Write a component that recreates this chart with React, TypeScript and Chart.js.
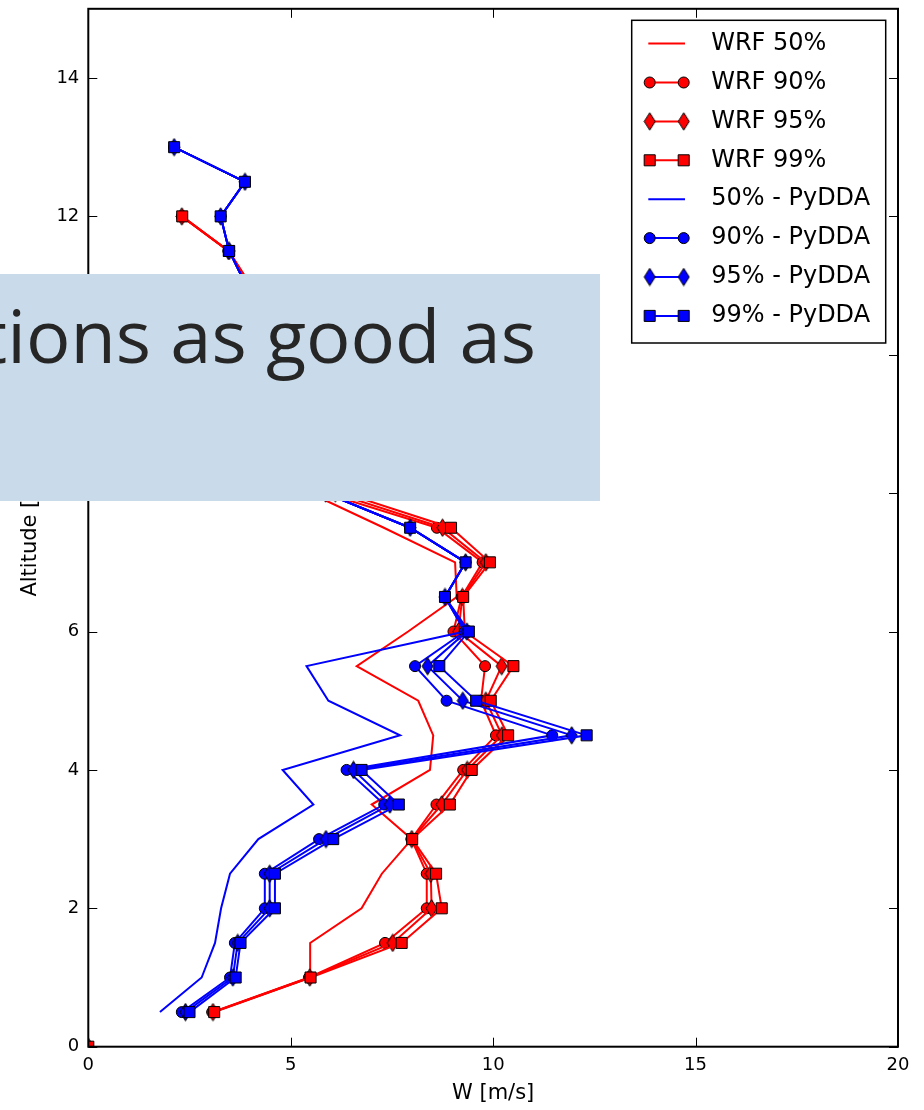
import React, { useEffect, useRef } from "react";
import { Chart, registerables } from "chart.js";

Chart.register(...registerables);

// ---------- data ----------
const X_TICKS = [0, 5, 10, 15, 20];
const Y_TICKS = [0, 2, 4, 6, 8, 10, 12, 14];

// WRF altitudes (km), includes the surface point
const WRF_ALT = [0, 0.5, 1, 1.5, 2, 2.5, 3, 3.5, 4, 4.5, 5, 5.5, 6, 6.5, 7, 7.5, 8, 8.5, 9, 9.5, 10, 10.5, 11, 11.5, 12];
// PyDDA altitudes (km)
const PYDDA_ALT = [0.5, 1, 1.5, 2, 2.5, 3, 3.5, 4, 4.5, 5, 5.5, 6, 6.5, 7, 7.5, 8, 8.5, 9, 9.5, 10, 10.5, 11, 11.5, 12, 12.5, 13];

const WRF_50 = [0, 3.09, 5.48, 5.48, 6.75, 7.25, 7.99, 7.0, 8.44, 8.52, 8.15, 6.63, 7.9, 9.1, 9.06, 7.3, 5.48, 5.2, 5.0, 4.7, 4.5, 4.2, 4.0, 3.46, 2.31];
const WRF_90 = [0, 3.06, 5.45, 7.33, 8.36, 8.36, 7.98, 8.6, 9.26, 10.07, 9.7, 9.8, 9.02, 9.22, 9.74, 8.61, 5.86, 5.5, 5.2, 4.8, 4.6, 4.3, 4.0, 3.46, 2.31];
const WRF_95 = [0, 3.08, 5.47, 7.52, 8.48, 8.46, 7.99, 8.73, 9.36, 10.22, 9.82, 10.21, 9.14, 9.24, 9.82, 8.75, 6.1, 5.6, 5.25, 4.85, 4.6, 4.3, 4.0, 3.46, 2.31];
const WRF_99 = [0, 3.11, 5.49, 7.74, 8.73, 8.59, 8.0, 8.93, 9.47, 10.37, 9.94, 10.5, 9.3, 9.26, 9.92, 8.96, 6.33, 5.7, 5.3, 4.9, 4.65, 4.35, 4.02, 3.47, 2.32];

const PYDDA_50 = [1.77, 2.8, 3.13, 3.28, 3.5, 4.2, 5.56, 4.8, 7.7, 5.93, 5.39, 9.3, 8.81, 9.32, 7.95, 5.86, 5.3, 5.0, 4.6, 4.4, 4.2, 3.9, 3.48, 3.27, 3.87, 2.12];
const PYDDA_90 = [2.31, 3.5, 3.62, 4.36, 4.36, 5.7, 7.31, 6.38, 11.46, 8.85, 8.07, 9.3, 8.81, 9.32, 7.95, 5.86, 5.3, 5.0, 4.6, 4.4, 4.2, 3.9, 3.48, 3.27, 3.87, 2.12];
const PYDDA_95 = [2.4, 3.57, 3.69, 4.48, 4.48, 5.87, 7.45, 6.55, 11.94, 9.25, 8.38, 9.35, 8.81, 9.32, 7.95, 5.86, 5.3, 5.0, 4.6, 4.4, 4.2, 3.9, 3.48, 3.27, 3.87, 2.12];
const PYDDA_99 = [2.5, 3.64, 3.76, 4.61, 4.61, 6.05, 7.67, 6.75, 12.31, 9.58, 8.67, 9.4, 8.81, 9.32, 7.95, 5.86, 5.3, 5.0, 4.6, 4.4, 4.2, 3.9, 3.48, 3.27, 3.87, 2.12];

const LABELS = ["WRF 50%", "WRF 90%", "WRF 95%", "WRF 99%", "50% - PyDDA", "90% - PyDDA", "95% - PyDDA", "99% - PyDDA"];

const X_TITLE = "W [m/s]";
const Y_TITLE = "Altitude [km]";
const BANNER_TEXT = "tions as good as";

// ---------- styles ----------
const RED = "#ff0000";
const BLUE = "#0000ff";
const FONT = "'DejaVu Sans', sans-serif";

type Marker = "none" | "circle" | "diamond" | "square";

const SERIES: { label: string; alt: number[]; w: number[]; color: string; marker: Marker; surface: boolean }[] = [
  { label: LABELS[0], alt: WRF_ALT, w: WRF_50, color: RED, marker: "none", surface: true },
  { label: LABELS[1], alt: WRF_ALT, w: WRF_90, color: RED, marker: "circle", surface: true },
  { label: LABELS[2], alt: WRF_ALT, w: WRF_95, color: RED, marker: "diamond", surface: true },
  { label: LABELS[3], alt: WRF_ALT, w: WRF_99, color: RED, marker: "square", surface: true },
  { label: LABELS[4], alt: PYDDA_ALT, w: PYDDA_50, color: BLUE, marker: "none", surface: false },
  { label: LABELS[5], alt: PYDDA_ALT, w: PYDDA_90, color: BLUE, marker: "circle", surface: false },
  { label: LABELS[6], alt: PYDDA_ALT, w: PYDDA_95, color: BLUE, marker: "diamond", surface: false },
  { label: LABELS[7], alt: PYDDA_ALT, w: PYDDA_99, color: BLUE, marker: "square", surface: false },
];

const CIRCLE_R = 5.5;
const SQUARE_R = 7.8;

function makeDiamond(color: string): HTMLCanvasElement {
  const c = document.createElement("canvas");
  c.width = 13;
  c.height = 19;
  const g = c.getContext("2d")!;
  g.beginPath();
  g.moveTo(6.5, 0.8);
  g.lineTo(12, 9.5);
  g.lineTo(6.5, 18.2);
  g.lineTo(1, 9.5);
  g.closePath();
  g.fillStyle = color;
  g.fill();
  g.strokeStyle = "#000";
  g.lineWidth = 1;
  g.stroke();
  return c;
}

function drawMarker(ctx: CanvasRenderingContext2D, marker: Marker, x: number, y: number, color: string, diamonds: Record<string, HTMLCanvasElement>) {
  if (marker === "none") return;
  if (marker === "diamond") {
    const img = diamonds[color];
    ctx.drawImage(img, x - img.width / 2, y - img.height / 2);
    return;
  }
  ctx.beginPath();
  if (marker === "circle") {
    ctx.arc(x, y, CIRCLE_R, 0, Math.PI * 2);
  } else {
    const s = SQUARE_R * Math.SQRT1_2;
    ctx.rect(x - s, y - s, 2 * s, 2 * s);
  }
  ctx.fillStyle = color;
  ctx.fill();
  ctx.strokeStyle = "#000";
  ctx.lineWidth = 1;
  ctx.stroke();
}

export default function App() {
  const ref = useRef<HTMLCanvasElement | null>(null);

  useEffect(() => {
    const canvas = ref.current;
    if (!canvas) return;
    const diamonds: Record<string, HTMLCanvasElement> = { [RED]: makeDiamond(RED), [BLUE]: makeDiamond(BLUE) };

    const n = SERIES.length;
    const datasets = SERIES.map((s, i) => {
      const style: any =
        s.marker === "circle" ? "circle" : s.marker === "square" ? "rect" : s.marker === "diamond" ? diamonds[s.color] : "circle";
      const radius = s.marker === "none" ? 0 : s.marker === "circle" ? CIRCLE_R : s.marker === "square" ? SQUARE_R : 6;
      const ds: any = {
        label: s.label,
        data: s.alt.map((a, k) => ({ x: s.w[k], y: a })),
        showLine: true,
        borderColor: s.color,
        backgroundColor: s.color,
        borderWidth: 2,
        pointStyle: style,
        pointRadius: radius,
        pointHoverRadius: radius,
        pointBackgroundColor: s.color,
        pointBorderColor: "#000",
        pointBorderWidth: 1,
        tension: 0,
        clip: 0,
        order: n - 1 - i,
      };
      if (s.surface) {
        ds.segment = {
          borderColor: (c: any) => (c.p0DataIndex === 0 ? "rgba(0,0,0,0)" : undefined),
        };
      }
      return ds;
    });

    const framePlugin = {
      id: "mplFrame",
      afterDraw(chart: any) {
        const { ctx, chartArea: ca } = chart;
        const xs = chart.scales.x;
        const ys = chart.scales.y;
        ctx.save();
        // inward ticks on all four sides
        ctx.strokeStyle = "#000";
        ctx.lineWidth = 1;
        ctx.beginPath();
        X_TICKS.forEach((v) => {
          const px = Math.round(xs.getPixelForValue(v)) + 0.5;
          ctx.moveTo(px, ca.bottom);
          ctx.lineTo(px, ca.bottom - 9);
          ctx.moveTo(px, ca.top);
          ctx.lineTo(px, ca.top + 9);
        });
        Y_TICKS.forEach((v) => {
          const py = Math.round(ys.getPixelForValue(v)) + 0.5;
          ctx.moveTo(ca.left, py);
          ctx.lineTo(ca.left + 9, py);
          ctx.moveTo(ca.right, py);
          ctx.lineTo(ca.right - 9, py);
        });
        ctx.stroke();
        // frame
        ctx.lineWidth = 2;
        ctx.strokeRect(ca.left, ca.top, ca.right - ca.left, ca.bottom - ca.top);

        // legend
        const lw = 254;
        const lh = 322.7;
        const lx = ca.right - 12.3 - lw;
        const ly = ca.top + 11.5;
        ctx.fillStyle = "#fff";
        ctx.fillRect(lx, ly, lw, lh);
        ctx.lineWidth = 1.5;
        ctx.strokeStyle = "#000";
        ctx.strokeRect(lx, ly, lw, lh);
        ctx.font = `24px ${FONT}`;
        ctx.textBaseline = "middle";
        ctx.textAlign = "left";
        SERIES.forEach((s, i) => {
          const cy = ly + 23.3 + i * 38.9;
          const x1 = s.marker === "none" ? lx + 16.6 : lx + 18;
          const x2 = s.marker === "none" ? lx + 53.3 : lx + 52;
          ctx.beginPath();
          ctx.strokeStyle = s.color;
          ctx.lineWidth = 2;
          ctx.moveTo(x1, cy);
          ctx.lineTo(x2, cy);
          ctx.stroke();
          drawMarker(ctx, s.marker, lx + 18, cy, s.color, diamonds);
          drawMarker(ctx, s.marker, lx + 52, cy, s.color, diamonds);
          ctx.fillStyle = "#000";
          ctx.fillText(s.label, lx + 79.5, cy);
        });
        ctx.restore();
      },
    };

    const chart = new Chart(canvas, {
      type: "scatter",
      data: { datasets },
      options: {
        responsive: false,
        maintainAspectRatio: false,
        devicePixelRatio: 1,
        animation: false,
        events: [],
        layout: { padding: { left: 0, right: 26, top: 7.5, bottom: 0 } },
        plugins: { legend: { display: false }, tooltip: { enabled: false } },
        scales: {
          x: {
            type: "linear",
            min: 0,
            max: 20,
            position: "bottom",
            grid: { display: false, drawTicks: false },
            border: { display: false },
            afterBuildTicks: (scale: any) => {
              scale.ticks = X_TICKS.map((v) => ({ value: v }));
            },
            afterFit: (scale: any) => {
              scale.height = 63.3;
              scale.paddingLeft = 0;
              scale.paddingRight = 0;
            },
            ticks: { font: { family: FONT, size: 18 }, color: "#000", padding: 8, maxRotation: 0 },
            title: { display: true, text: X_TITLE, font: { family: FONT, size: 21 }, color: "#000", padding: { top: 0, bottom: 4 } },
          },
          y: {
            type: "linear",
            min: 0,
            max: 15,
            position: "left",
            grid: { display: false, drawTicks: false },
            border: { display: false },
            afterBuildTicks: (scale: any) => {
              scale.ticks = Y_TICKS.map((v) => ({ value: v }));
            },
            afterFit: (scale: any) => {
              scale.width = 88.3;
              scale.paddingTop = 0;
              scale.paddingBottom = 0;
            },
            ticks: { font: { family: FONT, size: 18 }, color: "#000", padding: 9 },
            title: { display: true, text: Y_TITLE, font: { family: FONT, size: 21 }, color: "#000", padding: { top: 18, bottom: 0 } },
          },
        },
      } as any,
      plugins: [framePlugin],
    });

    return () => chart.destroy();
  }, []);

  return (
    <div style={{ position: "fixed", left: 0, top: 0, width: 924, height: 1110, background: "#fff", overflow: "hidden" }}>
      <canvas ref={ref} width={924} height={1110} style={{ display: "block", width: 924, height: 1110 }} />
      <div
        style={{
          position: "absolute",
          left: 0,
          top: 274,
          width: 600,
          height: 227,
          background: "#c9dbea",
          overflow: "hidden",
        }}
      >
        <span
          style={{
            position: "absolute",
            right: 64,
            top: 24,
            fontFamily: "'Open Sans', sans-serif",
            fontSize: 74,
            lineHeight: 1,
            color: "#262626",
            whiteSpace: "nowrap",
          }}
        >
          {BANNER_TEXT}
        </span>
      </div>
    </div>
  );
}
